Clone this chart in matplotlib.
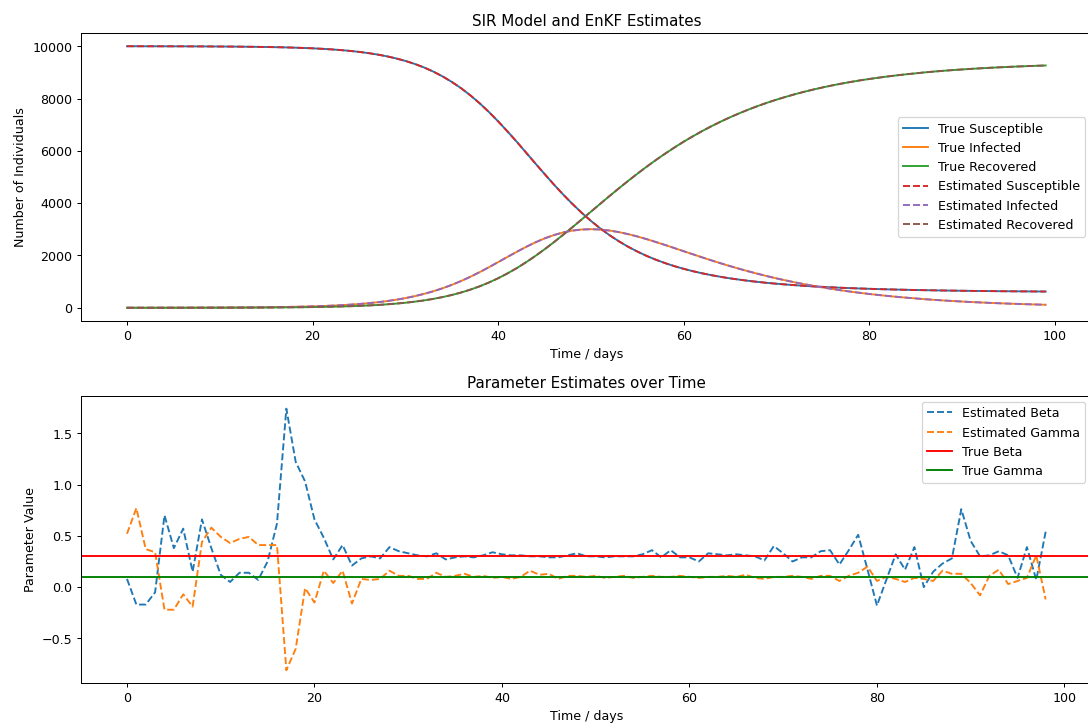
import matplotlib
matplotlib.use("Agg")
import matplotlib.pyplot as plt

# ---------------- data ----------------
days = list(range(100))

true_S = [9999, 9999, 9998, 9998, 9997, 9996, 9996, 9994, 9993, 9991,
          9989, 9987, 9984, 9980, 9976, 9970, 9964, 9956, 9946, 9934,
          9920, 9902, 9880, 9854, 9822, 9784, 9738, 9682, 9615, 9534,
          9438, 9324, 9190, 9032, 8848, 8636, 8396, 8123, 7820, 7486,
          7126, 6744, 6348, 5937, 5522, 5115, 4714, 4331, 3970, 3632,
          3320, 3035, 2776, 2543, 2334, 2149, 1983, 1836, 1706, 1590,
          1488, 1397, 1316, 1245, 1181, 1124, 1074, 1028, 988, 951,
          919, 889, 863, 839, 817, 798, 780, 764, 750, 737,
          725, 714, 704, 695, 687, 679, 672, 666, 660, 655,
          650, 645, 641, 638, 634, 631, 628, 626, 623, 621]

true_I = [1, 1, 1, 2, 2, 3, 3, 4, 5, 6,
          7, 9, 11, 14, 16, 20, 25, 30, 36, 44,
          54, 66, 80, 97, 118, 144, 174, 211, 255, 307,
          369, 443, 529, 629, 744, 875, 1022, 1184, 1361, 1549,
          1745, 1943, 2138, 2326, 2499, 2651, 2779, 2880, 2951, 2992,
          3005, 2991, 2952, 2893, 2816, 2726, 2624, 2514, 2399, 2281,
          2161, 2043, 1925, 1810, 1699, 1591, 1488, 1390, 1296, 1207,
          1123, 1045, 970, 901, 836, 775, 718, 665, 615, 570,
          527, 488, 451, 417, 386, 357, 327, 302, 279, 258,
          238, 219, 203, 187, 172, 159, 147, 135, 125, 115]

true_R = [0, 0, 0, 0, 1, 1, 1, 2, 2, 3,
          3, 4, 5, 6, 8, 10, 12, 15, 18, 22,
          27, 33, 40, 49, 59, 72, 88, 107, 131, 159,
          192, 233, 281, 339, 408, 488, 583, 693, 819, 965,
          1129, 1313, 1515, 1738, 1979, 2235, 2506, 2789, 3079, 3376,
          3675, 3975, 4272, 4564, 4849, 5126, 5393, 5650, 5895, 6129,
          6351, 6560, 6759, 6945, 7120, 7285, 7438, 7582, 7717, 7842,
          7958, 8066, 8167, 8260, 8347, 8427, 8502, 8571, 8635, 8694,
          8748, 8798, 8845, 8888, 8928, 8964, 9001, 9032, 9061, 9088,
          9112, 9135, 9156, 9176, 9193, 9210, 9225, 9239, 9252, 9264]

# EnKF state estimates coincide with the true curves at this scale
est_S = list(true_S)
est_I = list(true_I)
est_R = list(true_R)

param_days = list(range(99))

est_beta = [0.08, -0.17, -0.17, -0.05, 0.70, 0.38, 0.57, 0.15, 0.66, 0.38,
            0.12, 0.05, 0.14, 0.14, 0.07, 0.25, 0.62, 1.74, 1.22, 1.03,
            0.66, 0.48, 0.27, 0.41, 0.21, 0.28, 0.30, 0.28, 0.39, 0.35,
            0.33, 0.31, 0.30, 0.33, 0.27, 0.29, 0.30, 0.29, 0.31, 0.34,
            0.32, 0.31, 0.31, 0.30, 0.30, 0.29, 0.29, 0.31, 0.33, 0.30,
            0.30, 0.29, 0.30, 0.30, 0.30, 0.32, 0.36, 0.29, 0.36, 0.29,
            0.29, 0.25, 0.33, 0.32, 0.31, 0.32, 0.31, 0.30, 0.26, 0.40,
            0.33, 0.25, 0.29, 0.29, 0.35, 0.36, 0.22, 0.36, 0.51, 0.17,
            -0.18, 0.07, 0.32, 0.17, 0.39, 0.00, 0.15, 0.23, 0.28, 0.76,
            0.45, 0.30, 0.31, 0.35, 0.31, 0.09, 0.39, 0.07, 0.54]

est_gamma = [0.52, 0.77, 0.37, 0.34, -0.22, -0.22, -0.07, -0.19, 0.44, 0.58,
             0.49, 0.43, 0.47, 0.49, 0.41, 0.41, 0.41, -0.81, -0.60, -0.01,
             -0.15, 0.16, 0.04, 0.16, -0.16, 0.08, 0.07, 0.08, 0.16, 0.11,
             0.11, 0.08, 0.08, 0.14, 0.10, 0.11, 0.13, 0.10, 0.11, 0.09,
             0.10, 0.08, 0.10, 0.16, 0.12, 0.13, 0.08, 0.11, 0.11, 0.10,
             0.11, 0.09, 0.10, 0.11, 0.09, 0.10, 0.11, 0.10, 0.10, 0.11,
             0.10, 0.09, 0.10, 0.10, 0.11, 0.10, 0.12, 0.09, 0.08, 0.10,
             0.10, 0.11, 0.10, 0.08, 0.11, 0.11, 0.06, 0.11, 0.14, 0.20,
             0.06, 0.10, 0.08, 0.05, 0.09, 0.08, 0.06, 0.16, 0.13, 0.13,
             0.04, -0.08, 0.11, 0.17, 0.03, 0.06, 0.09, 0.31, -0.12]

true_beta = 0.3
true_gamma = 0.1

# ---------------- figure ----------------
fig = plt.figure(figsize=(12, 8), dpi=1088 / 12)
ax1 = fig.add_axes([0.0745, 0.5572, 0.9288, 0.3966])
ax2 = fig.add_axes([0.0745, 0.0575, 0.9288, 0.3967])

ax1.plot(days, true_S, color="C0", label="True Susceptible")
ax1.plot(days, true_I, color="C1", label="True Infected")
ax1.plot(days, true_R, color="C2", label="True Recovered")
ax1.plot(days, est_S, "--", color="C3", label="Estimated Susceptible")
ax1.plot(days, est_I, "--", color="C4", label="Estimated Infected")
ax1.plot(days, est_R, "--", color="C5", label="Estimated Recovered")
ax1.set_title("SIR Model and EnKF Estimates")
ax1.set_xlabel("Time / days")
ax1.set_ylabel("Number of Individuals")
ax1.legend(loc="center right")

ax2.plot(param_days, est_beta, "--", color="C0", label="Estimated Beta")
ax2.plot(param_days, est_gamma, "--", color="C1", label="Estimated Gamma")
ax2.axhline(true_beta, color="r", label="True Beta")
ax2.axhline(true_gamma, color="g", label="True Gamma")
ax2.set_title("Parameter Estimates over Time")
ax2.set_xlabel("Time / days")
ax2.set_ylabel("Parameter Value")
ax2.legend(loc="upper right")

fig.savefig("out.png", dpi=1088 / 12)
